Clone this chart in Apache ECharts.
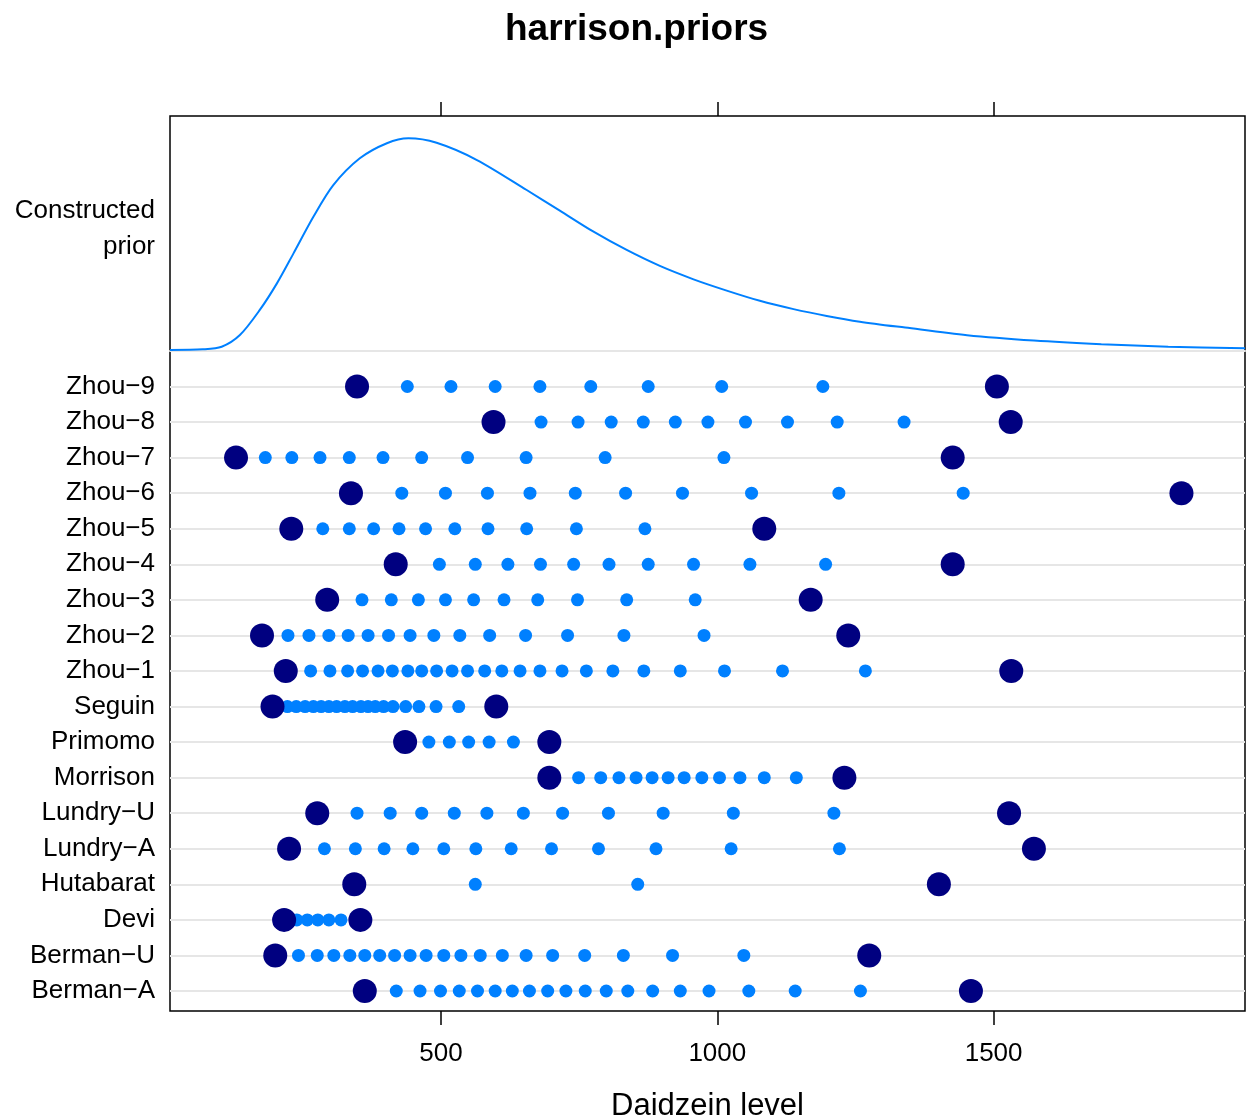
<!DOCTYPE html>
<html>
<head>
<meta charset="utf-8">
<title>harrison.priors</title>
<script src="https://cdn.jsdelivr.net/npm/echarts@6/dist/echarts.min.js"></script>
<style>
  html, body { margin: 0; padding: 0; background: #fff; }
  #chart { width: 1249px; height: 1119px; }
</style>
</head>
<body>
<div id="chart"></div>
<script>
// rows, top to bottom
const studies = ["Zhou−9", "Zhou−8", "Zhou−7", "Zhou−6", "Zhou−5", "Zhou−4", "Zhou−3", "Zhou−2", "Zhou−1",
  "Seguin", "Primomo", "Morrison", "Lundry−U", "Lundry−A", "Hutabarat", "Devi", "Berman−U", "Berman−A"];

// big end points of each study
const lowEnd = [348, 595, 129, 337, 229, 418, 294, 176, 219, 195, 435, 696, 276, 225, 343, 216, 200, 362];
const highEnd = [1506, 1531, 1426, 1840, 1085, 1426, 1169, 1237, 1532, 600, 696, 1230, 1528, 1573, 1401, 354, 1275, 1459];

// inner points of each study
const zhou9 = [439, 518, 598, 679, 771, 875, 1008, 1191];
const zhou8 = [681, 748, 808, 866, 924, 983, 1051, 1127, 1217, 1338];
const zhou7 = [182, 230, 281, 334, 395, 465, 548, 654, 797, 1012];
const zhou6 = [429, 508, 584, 661, 743, 834, 937, 1062, 1220, 1445];
const zhou5 = [286, 334, 378, 424, 472, 525, 585, 655, 745, 869];
const zhou4 = [497, 562, 621, 680, 740, 804, 875, 957, 1059, 1196];
const zhou3 = [357, 410, 459, 508, 559, 614, 675, 747, 836, 960];
const zhou2 = [223, 261, 297, 332, 368, 405, 444, 487, 534, 588, 653, 729, 831, 976];
const zhou1 = [264, 299, 331, 358, 386, 412, 440, 465, 492, 520, 548, 579, 610, 643, 679, 719, 763, 811, 867, 933, 1013, 1118, 1268];
const seguin = [222, 238, 254, 269, 283, 297, 311, 326, 340, 355, 368, 381, 396, 413, 436, 460, 491, 532];
const primomo = [478, 515, 550, 587, 631];
const morrison = [749, 789, 822, 853, 882, 911, 940, 972, 1004, 1041, 1085, 1143];
const lundryU = [348, 408, 465, 524, 583, 649, 720, 803, 902, 1029, 1211];
const lundryA = [289, 345, 397, 449, 505, 563, 627, 700, 785, 889, 1025, 1221];
const hutabarat = [562, 856];
const devi = [239, 258, 277, 297, 319];
const bermanU = [242, 276, 306, 335, 362, 389, 416, 444, 473, 505, 536, 571, 611, 654, 702, 760, 830, 919, 1048];
const bermanA = [419, 462, 499, 533, 566, 598, 629, 660, 693, 726, 761, 799, 838, 883, 933, 985, 1057, 1141, 1259];

// constructed prior curve (relative density)
const priorX = [9.5, 69, 103, 136, 172, 203, 233, 269, 305, 353, 402, 441, 492, 565, 655, 715, 776, 836, 896,
  957, 1017, 1077, 1138, 1198, 1258, 1340, 1452, 1573, 1695, 1816, 1955];
const priorY = [0.005, 0.008, 0.020, 0.075, 0.193, 0.318, 0.459, 0.631, 0.780, 0.906, 0.977, 1.000, 0.979, 0.898, 0.757,
  0.660, 0.561, 0.475, 0.400, 0.337, 0.284, 0.236, 0.197, 0.165, 0.138, 0.110, 0.074, 0.049, 0.032, 0.020, 0.013];

const tickValues = [500, 1000, 1500];

const FONT = '"Liberation Sans", Arial, Helvetica, sans-serif';
const xMin = 9.5;
const xMax = 1955;

const rowPoints = [zhou9, zhou8, zhou7, zhou6, zhou5, zhou4, zhou3, zhou2, zhou1,
  seguin, primomo, morrison, lundryU, lundryA, hutabarat, devi, bermanU, bermanA];

const smallData = [];
const bigData = [];
studies.forEach((name, i) => {
  rowPoints[i].forEach((v) => smallData.push([v, name]));
  bigData.push([lowEnd[i], name], [highEnd[i], name]);
});

const chart = echarts.init(document.getElementById("chart"));

const tickStyle = { color: "#000", width: 1.5 };

chart.setOption({
  animation: false,
  title: {
    text: "harrison.priors",
    left: 500,
    top: 6,
    textStyle: { fontSize: 37, fontWeight: "bold", fontFamily: FONT, color: "#000" },
  },
  graphic: [
    {
      type: "text",
      x: 155,
      y: 229,
      style: {
        text: "Constructed\nprior",
        align: "right",
        verticalAlign: "middle",
        fontSize: 26,
        fontFamily: FONT,
        fill: "#000",
        lineHeight: 36,
      },
    },
  ],
  grid: [
    { left: 170, top: 116, width: 1075, height: 895, show: true, borderColor: "#000", borderWidth: 1.5, backgroundColor: "transparent", outerBoundsMode: "none" },
    { left: 170, top: 116, width: 1075, height: 235, outerBoundsMode: "none" },
    { left: 170, top: 386.5, width: 1075, height: 604.5, outerBoundsMode: "none" },
  ],
  xAxis: [
    {
      gridIndex: 0,
      type: "value",
      min: xMin,
      max: xMax,
      position: "bottom",
      axisLine: { show: false },
      splitLine: { show: false },
      axisTick: { show: true, length: 14, lineStyle: tickStyle, customValues: tickValues },
      axisLabel: { customValues: tickValues, formatter: (v) => String(v), fontSize: 26, color: "#000", fontFamily: FONT, margin: 30 },
      name: "Daidzein level",
      nameLocation: "middle",
      nameGap: 80,
      nameTextStyle: { fontSize: 31, color: "#000", fontFamily: FONT },
    },
    {
      gridIndex: 0,
      type: "value",
      min: xMin,
      max: xMax,
      position: "top",
      axisLine: { show: false },
      splitLine: { show: false },
      axisTick: { show: true, length: 14, lineStyle: tickStyle, customValues: tickValues },
      axisLabel: { show: false },
    },
    {
      gridIndex: 1,
      type: "value",
      min: xMin,
      max: xMax,
      axisLine: { show: true, lineStyle: { color: "#e6e6e6", width: 2 } },
      axisTick: { show: false },
      axisLabel: { show: false },
      splitLine: { show: false },
    },
    { gridIndex: 2, type: "value", min: xMin, max: xMax, show: false },
  ],
  yAxis: [
    { gridIndex: 0, type: "value", min: 0, max: 1, show: false },
    { gridIndex: 1, type: "value", min: 0, max: 1.105, show: false },
    {
      gridIndex: 2,
      type: "category",
      data: studies,
      inverse: true,
      boundaryGap: false,
      axisLine: { show: false },
      axisTick: { show: false },
      axisLabel: { interval: 0, fontSize: 26, color: "#000", fontFamily: FONT, margin: 15 },
      splitLine: { show: true, interval: 0, lineStyle: { color: "#e6e6e6", width: 2 } },
    },
  ],
  series: [
    {
      name: "prior",
      type: "line",
      xAxisIndex: 2,
      yAxisIndex: 1,
      data: priorX.map((x, i) => [x, priorY[i]]),
      showSymbol: false,
      smooth: 0.3,
      lineStyle: { color: "#0080ff", width: 2 },
    },
    {
      name: "points",
      type: "scatter",
      xAxisIndex: 3,
      yAxisIndex: 2,
      data: smallData,
      symbolSize: 13,
      itemStyle: { color: "#0080ff", opacity: 1 },
    },
    {
      name: "ends",
      type: "scatter",
      xAxisIndex: 3,
      yAxisIndex: 2,
      data: bigData,
      symbolSize: 24,
      itemStyle: { color: "#000080", opacity: 1 },
    },
  ],
});
</script>
</body>
</html>
